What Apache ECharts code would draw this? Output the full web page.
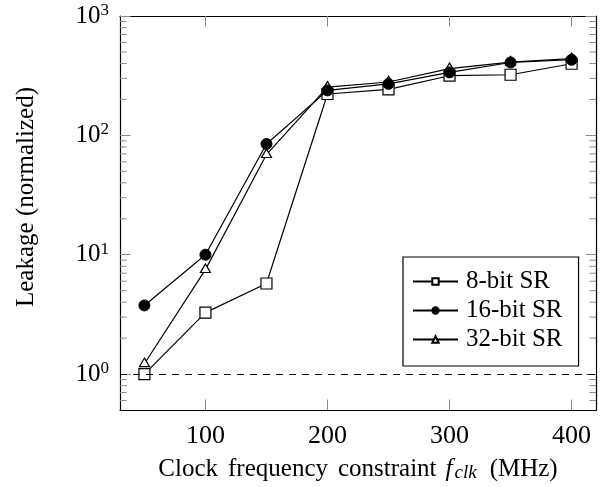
<!DOCTYPE html>
<html>
<head>
<meta charset="utf-8">
<script src="https://cdn.jsdelivr.net/npm/echarts@6/dist/echarts.min.js"></script>
<style>
html,body{margin:0;padding:0;background:#fff;}
#c{width:609px;height:487px;}
</style>
</head>
<body>
<div id="c"></div>
<script>
// ---- data ----
const freqs = [50, 100, 150, 200, 250, 300, 350, 400];
const sr8  = [1.0, 3.27, 5.74, 222, 243, 316, 322, 398];
const sr16 = [3.76, 10.0, 84.7, 238, 270, 337, 408, 430];
const sr32 = [1.22, 7.5, 69, 254, 280, 362, 411, 440];
const seriesNames = ['8-bit SR', '16-bit SR', '32-bit SR'];
const xTickValues = [100, 200, 300, 400];
const yTickValues = [1, 10, 100, 1000];
const yMinorTickValues = [0.6, 0.7, 0.8, 0.9, 2, 3, 4, 5, 6, 7, 8, 9, 20, 30, 40, 50, 60, 70, 80, 90, 200, 300, 400, 500, 600, 700, 800, 900];
const referenceLevel = 1;
const xRange = [30, 420];
const yRange = [0.5, 1000];

const FONT = 'Liberation Serif';
const TICK_COLOR = '#8a8a8a';

const chart = echarts.init(document.getElementById('c'), null, {renderer: 'canvas'});

function pairs(vals) { return freqs.map((x, i) => [x, vals[i]]); }

function yLabel(v) {
  const e = Math.round(Math.log10(v));
  if (Math.abs(Math.pow(10, e) - v) > 1e-6 * v) return '';
  return '{b|10}{s|' + e + '}';
}

const commonX = {
  type: 'value', min: xRange[0], max: xRange[1],
  axisLine: {show: true, onZero: false, lineStyle: {color: '#000', width: 1.2}},
  axisTick: {show: true, inside: true, length: 10.5, customValues: xTickValues, lineStyle: {color: TICK_COLOR, width: 1}},
  splitLine: {show: false}
};
const commonY = {
  type: 'log', logBase: 10, min: yRange[0], max: yRange[1],
  axisLine: {show: true, onZero: false, lineStyle: {color: '#000', width: 1.2}},
  axisTick: {show: true, inside: true, length: 10.5, customValues: yTickValues, lineStyle: {color: TICK_COLOR, width: 1}},
  splitLine: {show: false}
};

const tStyle = {fontFamily: FONT, fontSize: 25, color: '#000', lineHeight: 30, verticalAlign: 'bottom'};

const option = {
  animation: false,
  backgroundColor: '#fff',
  grid: {left: 120, right: 13, top: 16, bottom: 77, containLabel: false, outerBoundsMode: 'none'},
  xAxis: [
    Object.assign({}, commonX, {
      position: 'bottom',
      axisLabel: {show: true, customValues: xTickValues, margin: 13, fontFamily: FONT, fontSize: 26, color: '#000'},
      name: '{n|Clock}{w|frequency}{w|constraint}{f|f}{sub|clk}{p|(MHz)}',
      nameLocation: 'middle', nameGap: 42,
      nameTextStyle: {
        fontFamily: FONT, fontSize: 25, color: '#000',
        rich: {
          n: tStyle,
          w: Object.assign({}, tStyle, {padding: [0, 0, 0, 10]}),
          p: Object.assign({}, tStyle, {padding: [0, 0, 0, 12]}),
          f: Object.assign({}, tStyle, {fontStyle: 'italic', padding: [0, 2, 0, 9]}),
          sub: {fontFamily: FONT, fontSize: 19, fontStyle: 'italic', color: '#000', lineHeight: 24, verticalAlign: 'bottom', padding: [0, 1, 0, 0]}
        }
      }
    }),
    Object.assign({}, commonX, {position: 'top', axisLabel: {show: false}})
  ],
  yAxis: [
    Object.assign({}, commonY, {
      position: 'left',
      axisLabel: {
        show: true, customValues: yTickValues, margin: 11, formatter: yLabel,
        rich: {
          b: {fontFamily: FONT, fontSize: 25, color: '#000', lineHeight: 28},
          s: {fontFamily: FONT, fontSize: 17, color: '#000', lineHeight: 17, verticalAlign: 'top'}
        }
      }
    }),
    Object.assign({}, commonY, {position: 'right', axisLabel: {show: false}})
  ],
  legend: {
    orient: 'vertical', left: 403, top: 257,
    padding: [12, 16, 14, 9],
    itemWidth: 45, itemHeight: 8, itemGap: 4,
    borderColor: '#000', borderWidth: 1.2, borderRadius: 0, backgroundColor: '#fff',
    textStyle: {fontFamily: FONT, fontSize: 25, color: '#000', lineHeight: 25, padding: [0, 0, 0, 3]},
    data: seriesNames
  },
  graphic: [{
    type: 'text', x: 26, y: 197, rotation: Math.PI / 2,
    style: {text: 'Leakage (normalized)', font: '25px "' + FONT + '"', fill: '#000', align: 'center', verticalAlign: 'middle'}
  }],
  series: [
    {
      name: seriesNames[0], type: 'line', data: pairs(sr8), z: 2,
      symbol: 'rect', symbolSize: 11,
      lineStyle: {color: '#000', width: 1.2},
      itemStyle: {color: '#fff', borderColor: '#000', borderWidth: 1.2},
      markLine: {
        silent: true, symbol: ['none', 'none'], label: {show: false},
        lineStyle: {color: '#000', width: 1.2, type: [7, 6]},
        data: [{yAxis: referenceLevel}]
      }
    },
    {
      name: seriesNames[2], type: 'line', data: pairs(sr32), z: 3,
      symbol: 'triangle', symbolSize: [10, 8.5], symbolOffset: [0, -1.4],
      lineStyle: {color: '#000', width: 1.2},
      itemStyle: {color: '#fff', borderColor: '#000', borderWidth: 1.2}
    },
    {
      name: seriesNames[1], type: 'line', data: pairs(sr16), z: 4,
      symbol: 'circle', symbolSize: 11,
      lineStyle: {color: '#000', width: 1.2},
      itemStyle: {color: '#000', borderColor: '#000', borderWidth: 1}
    },
    {
      type: 'custom', silent: true, z: 1, clip: false,
      data: yMinorTickValues.map(v => [xRange[0], v]),
      renderItem: function (params, api) {
        const cs = params.coordSys;
        const y = api.coord([xRange[0], api.value(1)])[1];
        const st = {stroke: TICK_COLOR, lineWidth: 1};
        return {
          type: 'group',
          children: [
            {type: 'line', shape: {x1: cs.x, y1: y, x2: cs.x + 6.5, y2: y}, style: st},
            {type: 'line', shape: {x1: cs.x + cs.width, y1: y, x2: cs.x + cs.width - 6.5, y2: y}, style: st}
          ]
        };
      }
    }
  ]
};
chart.setOption(option);
</script>
</body>
</html>
